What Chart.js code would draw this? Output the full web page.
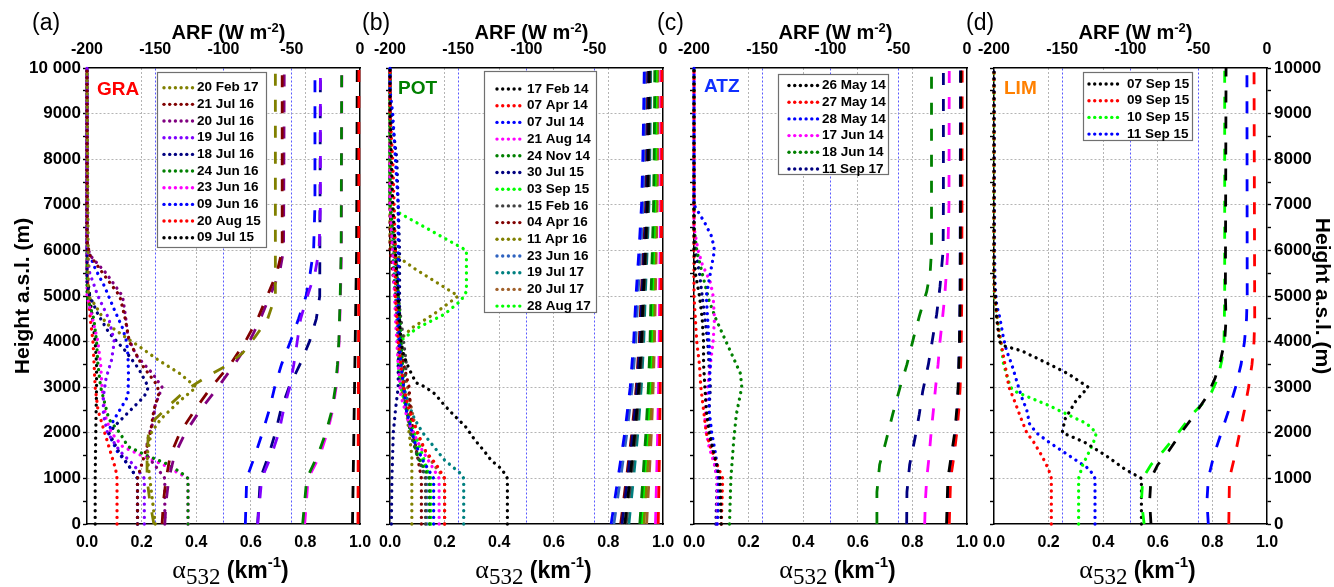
<!DOCTYPE html>
<html>
<head>
<meta charset="utf-8">
<script src="https://cdn.jsdelivr.net/npm/chart.js@4.4.1/dist/chart.umd.min.js"></script>
<style>
  html, body { margin: 0; padding: 0; background: #fff; }
  #wrap { position: relative; width: 1334px; height: 587px; overflow: hidden; background: #fff; }
  #wrap canvas { position: absolute; left: 0; top: 0; }
</style>
</head>
<body>
<div id="wrap">
  <canvas id="panelA" width="1334" height="587"></canvas>
  <canvas id="panelB" width="1334" height="587"></canvas>
  <canvas id="panelC" width="1334" height="587"></canvas>
  <canvas id="panelD" width="1334" height="587"></canvas>
</div>
<script>
// ---------------------------------------------------------------
// Vertical profiles: each point is [height a.s.l. (m), value].
// Extinction α532 in km^-1 (bottom axis), ARF in W m^-2 (top axis).
// ---------------------------------------------------------------

// ---- (a) GRA ----
const graDates  = ['20 Feb 17','21 Jul 16','20 Jul 16','19 Jul 16','18 Jul 16','24 Jun 16','23 Jun 16','09 Jun 16','20 Aug 15','09 Jul 15'];
const graColors = ['#808000','#800000','#800080','#8000ff','#000080','#008000','#ff00ff','#0000ff','#ff0000','#000000'];

const graExt20Feb17 = [[0,0.25],[500,0.24],[1000,0.23],[1500,0.22],[2000,0.235],[2300,0.27],[2700,0.34],[3000,0.40],[3300,0.34],[3600,0.26],[3900,0.19],[4100,0.14],[4400,0.07],[4800,0.03],[5000,0.005],[10000,0]];
const graExt21Jul16 = [[0,0.185],[1000,0.185],[1300,0.2],[1700,0.22],[2100,0.235],[2500,0.245],[2900,0.265],[3100,0.25],[3500,0.2],[4000,0.155],[4500,0.14],[5000,0.12],[5400,0.07],[5900,0.01],[6200,0],[10000,0]];
const graExt20Jul16 = [[0,0.285],[1000,0.285],[1200,0.26],[1500,0.22],[1800,0.22],[2200,0.24],[2600,0.25],[3000,0.275],[3300,0.24],[3700,0.18],[4100,0.15],[4600,0.14],[5000,0.13],[5500,0.07],[5900,0.01],[6200,0],[10000,0]];
const graExt19Jul16 = [[0,0.21],[1000,0.21],[1300,0.17],[1600,0.12],[2000,0.075],[2400,0.06],[2800,0.06],[3200,0.07],[3600,0.09],[4000,0.1],[4500,0.08],[5000,0.04],[5500,0.01],[6000,0],[10000,0]];
const graExt18Jul16 = [[0,0.185],[1000,0.185],[1300,0.15],[1600,0.115],[2000,0.08],[2200,0.11],[2500,0.16],[2800,0.21],[3000,0.225],[3400,0.19],[3800,0.14],[4200,0.08],[4600,0.04],[5000,0.01],[5300,0],[10000,0]];
const graExt24Jun16 = [[0,0.37],[1000,0.37],[1100,0.35],[1300,0.30],[1500,0.22],[1700,0.15],[2000,0.12],[2300,0.08],[3000,0.05],[3500,0.04],[4000,0.035],[4500,0.025],[5000,0],[10000,0]];
const graExt23Jun16 = [[0,0.37],[1000,0.37],[1100,0.34],[1300,0.28],[1500,0.2],[1700,0.13],[2000,0.09],[2300,0.07],[2700,0.06],[3000,0.055],[3500,0.05],[4000,0.04],[4500,0.02],[5000,0],[10000,0]];
const graExt09Jun16 = [[0,0.185],[1000,0.185],[1300,0.15],[1600,0.11],[2000,0.078],[2200,0.09],[2450,0.115],[2800,0.15],[3300,0.152],[3700,0.15],[4000,0.145],[4300,0.13],[4700,0.1],[5200,0.065],[5600,0.03],[5900,0.01],[6100,0],[10000,0]];
const graExt20Aug15 = [[0,0.11],[1000,0.11],[1200,0.105],[1600,0.085],[2000,0.065],[2500,0.04],[3000,0.03],[4000,0.022],[4500,0.012],[5000,0.006],[5500,0],[10000,0]];
const graExt09Jul15 = [[0,0.03],[1000,0.03],[2000,0.032],[3000,0.035],[3500,0.035],[4000,0.03],[4500,0.02],[5000,0.01],[5500,0],[10000,0]];

const graArf20Feb17 = [[0,-151],[500,-154],[1000,-156],[1500,-156],[2000,-155],[2300,-150],[2650,-138],[2950,-127],[3270,-110],[3450,-99],[3750,-86],[4100,-77],[4470,-68],[5000,-62],[10000,-62]];
const graArf21Jul16 = [[0,-145],[500,-144],[1000,-142],[1500,-139],[2000,-132],[2500,-121],[3000,-109],[3500,-95],[4000,-84],[4500,-75],[5000,-68],[5500,-61],[6000,-57],[10000,-57]];
const graArf20Jul16 = [[0,-143],[500,-142],[1000,-140],[1500,-136],[2000,-128],[2500,-117],[3000,-104],[3500,-92],[4000,-81],[4500,-73],[5000,-66],[5500,-59],[6000,-56],[10000,-55.5]];
const graArf19Jul16 = [[0,-75],[1000,-72],[1500,-65],[2000,-59.5],[2500,-56],[3000,-51.5],[3500,-48.5],[4000,-46],[4500,-43.5],[5000,-38.5],[5500,-33],[6000,-30],[7000,-29],[10000,-29]];
const graArf18Jul16 = [[0,-75],[1000,-73],[1500,-67],[2000,-62],[2500,-58],[3000,-52],[3500,-44],[4000,-37],[4500,-32],[5000,-29.5],[10000,-29]];
const graArf24Jun16 = [[0,-42],[1000,-39],[1500,-31],[2000,-25],[2500,-20.5],[3000,-18],[3500,-16.5],[4000,-15.5],[5000,-14.5],[6000,-13.8],[10000,-13.4]];
const graArf23Jun16 = [[0,-40.5],[1000,-38],[1500,-29.5],[2000,-24],[2500,-20],[3000,-17.5],[3500,-16.2],[4000,-15.3],[5000,-14.3],[6000,-13.6],[10000,-13.3]];
const graArf09Jun16 = [[0,-84],[1000,-83],[1500,-77],[2000,-71.5],[2500,-66.5],[3000,-62.5],[3500,-57.5],[4000,-51],[4500,-45],[5000,-39.5],[5500,-36.5],[6000,-34],[7000,-33],[10000,-33]];
const graArf20Aug15 = [[0,-1.5],[5000,-1],[10000,-0.8]];
const graArf09Jul15 = [[0,-5.5],[2000,-4.5],[4000,-3.5],[6000,-2.5],[10000,-2]];

// ---- (b) POT ----
const potDates  = ['17 Feb 14','07 Apr 14','07 Jul 14','21 Aug 14','24 Nov 14','30 Jul 15','03 Sep 15','15 Feb 16','04 Apr 16','11 Apr 16','23 Jun 16','19 Jul 17','20 Jul 17','28 Aug 17'];
const potColors = ['#000000','#ff0000','#0000ff','#ff00ff','#008000','#000080','#00ff00','#404040','#800000','#808000','#2f63c0','#008080','#a0602a','#00ff00'];

const potExt17Feb14 = [[0,0.43],[1000,0.43],[1200,0.41],[1400,0.37],[1600,0.345],[1850,0.31],[2150,0.275],[2350,0.24],[2600,0.2],[2850,0.165],[3000,0.13],[3100,0.095],[3400,0.07],[3700,0.05],[4000,0.04],[5000,0.03],[6000,0.02],[7000,0.01],[8000,0.005],[9000,0],[10000,0]];
const potExt07Apr14 = [[0,0.2],[1000,0.2],[1300,0.17],[1600,0.13],[2000,0.1],[2500,0.07],[3000,0.05],[4000,0.03],[5000,0.02],[6000,0.02],[7000,0.015],[8000,0.01],[8500,0.005],[9000,0],[10000,0]];
const potExt07Jul14 = [[0,0.16],[1000,0.16],[1400,0.12],[1800,0.09],[2500,0.06],[3500,0.04],[4500,0.03],[6000,0.03],[7000,0.03],[8000,0.02],[9000,0.01],[9500,0],[10000,0]];
const potExt21Aug14 = [[0,0.18],[1000,0.18],[1300,0.15],[1700,0.11],[2200,0.07],[2800,0.04],[3500,0.03],[4500,0.02],[6000,0.01],[7000,0],[10000,0]];
const potExt24Nov14 = [[0,0.145],[1000,0.145],[1500,0.1],[2000,0.08],[2500,0.06],[3000,0.05],[4000,0.04],[5000,0.03],[6000,0.02],[7000,0],[10000,0]];
const potExt30Jul15 = [[0,0.005],[1000,0.007],[2000,0.012],[2500,0.02],[3000,0.03],[3500,0.03],[4000,0.035],[5000,0.035],[6000,0.035],[7000,0.03],[8000,0.025],[8500,0.015],[9000,0.005],[9500,0],[10000,0]];
const potExt03Sep15 = [[0,0.15],[1000,0.15],[1500,0.11],[2000,0.08],[3000,0.05],[4000,0.04],[5000,0.03],[6000,0.02],[7000,0],[10000,0]];
const potExt15Feb16 = [[0,0.13],[1000,0.13],[1500,0.1],[2000,0.075],[2500,0.06],[3000,0.05],[3500,0.06],[4000,0.05],[5000,0.03],[6000,0.015],[7000,0],[10000,0]];
const potExt04Apr16 = [[0,0.115],[1000,0.115],[1500,0.1],[2000,0.085],[2500,0.075],[3000,0.07],[3500,0.05],[4000,0.04],[5000,0.02],[6000,0],[10000,0]];
const potExt11Apr16 = [[0,0.08],[1000,0.08],[1500,0.08],[2000,0.07],[2500,0.06],[3000,0.04],[3500,0.03],[4000,0.03],[4300,0.08],[4600,0.16],[5000,0.25],[5300,0.17],[5600,0.09],[5900,0.02],[6100,0],[10000,0]];
const potExt23Jun16 = [[0,0.135],[1000,0.135],[1500,0.1],[2000,0.075],[3000,0.05],[4000,0.04],[5000,0.03],[6000,0.02],[7000,0],[10000,0]];
const potExt19Jul17 = [[0,0.27],[1000,0.27],[1100,0.26],[1400,0.2],[1700,0.16],[2000,0.12],[2300,0.09],[2600,0.07],[3000,0.05],[3500,0.04],[4000,0.03],[5000,0.02],[6000,0.01],[7000,0],[10000,0]];
const potExt20Jul17 = [[0,0.2],[1000,0.2],[1300,0.16],[1700,0.12],[2200,0.09],[2800,0.07],[3500,0.05],[4500,0.03],[5500,0.02],[7000,0],[10000,0]];
const potExt28Aug17 = [[0,0.145],[1000,0.145],[1500,0.12],[2000,0.09],[2500,0.06],[3000,0.04],[3500,0.03],[4000,0.035],[4300,0.1],[4600,0.2],[4900,0.26],[5100,0.28],[6000,0.28],[6100,0.25],[6500,0.13],[6900,0.01],[7100,0],[10000,0]];

// ARF at the 1000 m levels 0 ... 10000 m
const potArfHeights = [0,1000,2000,3000,4000,5000,6000,7000,8000,9000,10000];
const potArf17Feb14 = [-28,-24.2,-20.6,-17.7,-15.8,-14.5,-12.9,-11.4,-10.8,-10.4,-10];
const potArf07Apr14 = [-3.5,-2.9,-2.4,-2.0,-1.7,-1.5,-1.2,-1.0,-0.9,-0.85,-0.8];
const potArf07Jul14 = [-38,-33,-28,-24,-21.5,-19.8,-17.6,-15.7,-14.8,-14.2,-13.7];
const potArf21Aug14 = [-5.5,-4.7,-3.9,-3.2,-2.8,-2.5,-2.1,-1.8,-1.7,-1.6,-1.5];
const potArf24Nov14 = [-17,-14.7,-12.5,-10.7,-9.5,-8.8,-7.8,-6.9,-6.5,-6.2,-6];
const potArf30Jul15 = [-30,-25.9,-22,-18.9,-16.7,-15.4,-13.6,-12.1,-11.4,-10.9,-10.5];
const potArf03Sep15 = [-16,-13.7,-11.5,-9.7,-8.5,-7.8,-6.8,-5.9,-5.5,-5.2,-5];
const potArf15Feb16 = [-27,-23.3,-19.8,-17,-15.1,-13.9,-12.3,-10.9,-10.3,-9.9,-9.5];
const potArf04Apr16 = [-31,-26.8,-22.8,-19.6,-17.4,-16,-14.2,-12.6,-11.9,-11.4,-11];
const potArf11Apr16 = [-14,-11.9,-9.9,-8.3,-7.2,-6.5,-5.6,-4.8,-4.5,-4.2,-4];
const potArf23Jun16 = [-36,-31.1,-26.4,-22.6,-20,-18.4,-16.3,-14.4,-13.6,-13,-12.5];
const potArf19Jul17 = [-25,-21.6,-18.4,-15.9,-14.1,-13,-11.6,-10.3,-9.7,-9.3,-9];
const potArf20Jul17 = [-12,-10.2,-8.5,-7.2,-6.2,-5.6,-4.9,-4.2,-3.9,-3.7,-3.5];
const potArf28Aug17 = [-15,-12.8,-10.7,-9,-7.9,-7.1,-6.2,-5.3,-5,-4.7,-4.5];

// ---- (c) ATZ ----
const atzDates  = ['26 May 14','27 May 14','28 May 14','17 Jun 14','18 Jun 14','11 Sep 17'];
const atzColors = ['#000000','#ff0000','#0000ff','#ff00ff','#008000','#000080'];

const atzExt26May14 = [[0,0.1],[1000,0.095],[1500,0.075],[2000,0.055],[2500,0.045],[3000,0.04],[3500,0.035],[4000,0.035],[4500,0.03],[5000,0.02],[5500,0.005],[6000,0],[10000,0]];
const atzExt27May14 = [[0,0.1],[1000,0.105],[1300,0.085],[1700,0.06],[2000,0.045],[2500,0.035],[3000,0.025],[3500,0.02],[4000,0.01],[4500,0.005],[5000,0],[10000,0]];
const atzExt28May14 = [[0,0.085],[500,0.09],[1000,0.09],[1500,0.08],[2000,0.065],[2500,0.055],[3000,0.055],[3500,0.06],[4000,0.055],[4500,0.05],[5000,0.045],[5500,0.06],[6000,0.075],[6300,0.065],[6600,0.04],[6900,0.01],[7000,0],[10000,0]];
const atzExt17Jun14 = [[0,0.085],[1000,0.085],[1300,0.075],[1700,0.055],[2000,0.045],[2300,0.04],[2700,0.045],[3000,0.05],[3500,0.06],[4000,0.07],[4500,0.075],[5000,0.07],[5300,0.06],[5700,0.03],[6000,0.015],[6500,0],[10000,0]];
const atzExt18Jun14 = [[0,0.13],[1000,0.135],[1800,0.145],[2400,0.155],[3000,0.175],[3300,0.17],[3700,0.14],[4100,0.11],[4500,0.08],[4900,0.055],[5500,0.03],[6000,0.01],[6500,0],[10000,0]];
const atzExt11Sep17 = [[0,0.08],[1000,0.085],[1500,0.07],[2000,0.06],[2500,0.055],[3000,0.06],[3500,0.055],[4000,0.05],[4500,0.04],[5000,0.03],[5500,0.02],[6000,0.005],[6500,0],[10000,0]];

const atzArf26May14 = [[0,-15],[1000,-14],[1500,-11.5],[2000,-9],[2500,-7.5],[3000,-6.5],[4000,-5.5],[5000,-5],[10000,-4.5]];
const atzArf27May14 = [[0,-13],[1000,-12],[1500,-9.5],[2000,-7.5],[2500,-6],[3000,-5],[4000,-4.2],[5000,-3.8],[10000,-3.5]];
const atzArf28May14 = [[0,-14],[1000,-13],[1500,-10.5],[2000,-8.5],[2500,-7],[3000,-6.3],[4000,-5.5],[5000,-5],[10000,-4.8]];
const atzArf17Jun14 = [[0,-31],[500,-30.5],[1000,-29.5],[1500,-27.7],[2000,-26.3],[2500,-24.6],[3000,-23],[3500,-21.2],[4000,-19.8],[4500,-18],[5000,-16.3],[6000,-14],[7000,-13.2],[10000,-13]];
const atzArf18Jun14 = [[0,-66],[700,-66],[1300,-64],[1800,-59.5],[2400,-54.5],[3000,-49],[3500,-44],[4100,-39],[4600,-34.5],[5100,-29.5],[5500,-27],[6000,-26],[10000,-26]];
const atzArf11Sep17 = [[0,-44.2],[700,-44],[1300,-42],[1900,-38],[2400,-35],[2900,-32.5],[3500,-28.3],[4100,-25],[4600,-22.2],[5200,-19.8],[6000,-17.5],[7000,-17.3],[10000,-17.3]];

// ---- (d) LIM ----
const limDates  = ['07 Sep 15','09 Sep 15','10 Sep 15','11 Sep 15'];
const limColors = ['#000000','#ff0000','#00ff00','#0000ff'];

const limExt07Sep15 = [[0,0.54],[1000,0.54],[1200,0.48],[1500,0.41],[1800,0.33],[2000,0.25],[2300,0.26],[2700,0.3],[3000,0.345],[3300,0.27],[3600,0.17],[3800,0.1],[3900,0.04],[4000,0.02],[4500,0.01],[5000,0.005],[5500,0],[10000,0]];
const limExt09Sep15 = [[0,0.21],[1000,0.21],[1200,0.2],[1500,0.175],[1800,0.145],[2000,0.12],[2300,0.1],[2700,0.075],[3000,0.055],[3500,0.04],[3900,0.028],[4300,0.015],[4700,0.008],[5000,0.003],[5300,0],[10000,0]];
const limExt10Sep15 = [[0,0.31],[1000,0.31],[1300,0.325],[1600,0.35],[1800,0.365],[2000,0.375],[2200,0.34],[2400,0.27],[2600,0.2],[2800,0.12],[2900,0.08],[3000,0.06],[3500,0.035],[4000,0.025],[4500,0.012],[4900,0.003],[5200,0],[10000,0]];
const limExt11Sep15 = [[0,0.37],[1000,0.37],[1200,0.35],[1400,0.3],[1600,0.25],[1800,0.2],[2000,0.155],[2200,0.13],[2500,0.12],[2800,0.1],[3100,0.085],[3500,0.065],[3800,0.046],[4100,0.034],[4500,0.022],[4800,0.01],[5200,0.004],[6000,0.002],[10000,0]];

const limArf07Sep15 = [[0,-85],[500,-86],[1000,-85],[1300,-80],[1600,-72],[2000,-63],[2400,-53],[2800,-44],[3200,-38],[3600,-34],[4000,-31],[4500,-30],[5000,-30.5],[10000,-30]];
const limArf09Sep15 = [[0,-28],[1000,-27.5],[1500,-23.5],[2000,-20],[2500,-16.5],[3000,-13.5],[3500,-11],[4000,-9.5],[4500,-9],[10000,-9.5]];
const limArf10Sep15 = [[0,-90],[500,-92],[1000,-91],[1300,-85],[1600,-76],[2000,-65],[2400,-55],[2800,-42],[3200,-36],[3600,-33],[4000,-31.5],[5000,-31],[10000,-31]];
const limArf11Sep15 = [[0,-43],[500,-44],[1000,-43],[1500,-39],[2000,-33.5],[2500,-28],[3000,-23],[3500,-19],[4000,-16.5],[4500,-15],[5000,-14.5],[10000,-14.7]];

// ---------------------------------------------------------------
const SANS  = "'Liberation Sans', Arial, Helvetica, sans-serif";
const SERIF = "'Liberation Serif', 'Times New Roman', serif";

const toPoints = arr => arr.map(p => ({ x: p[1], y: p[0] }));
const zipHeights = (hs, vs) => hs.map((h, i) => [h, vs[i]]);

function extDataset(label, color, arr) {
  return {
    label, data: toPoints(arr), xAxisID: 'x', yAxisID: 'y',
    showLine: true, borderColor: color, backgroundColor: color,
    borderWidth: 3.3, borderDash: [0.1, 6.5], borderCapStyle: 'round', borderJoinStyle: 'round',
    pointRadius: 0, tension: 0, fill: false, clip: 6
  };
}
function arfDataset(label, color, arr) {
  return {
    label, data: toPoints(arr), xAxisID: 'x2', yAxisID: 'y',
    showLine: true, borderColor: color, backgroundColor: color,
    borderWidth: 2.8, borderDash: [12, 14], borderCapStyle: 'butt',
    pointRadius: 0, tension: 0, fill: false, clip: 6
  };
}

// Text runs with sub/superscripts, drawn centred on cx
function drawRuns(ctx, runs, cx, baseY) {
  let total = 0;
  runs.forEach(r => { ctx.font = r.font; r.w = ctx.measureText(r.t).width; total += r.w; });
  let x = cx - total / 2;
  ctx.textAlign = 'left'; ctx.textBaseline = 'alphabetic'; ctx.fillStyle = '#000';
  runs.forEach(r => { ctx.font = r.font; ctx.fillText(r.t, x, baseY + (r.dy || 0)); x += r.w; });
}

function drawLegend(ctx, L, names, colors) {
  ctx.save();
  ctx.fillStyle = '#fff';
  ctx.fillRect(L.x, L.y, L.w, L.h);
  ctx.strokeStyle = '#707070'; ctx.lineWidth = 1.2;
  ctx.strokeRect(L.x + 0.5, L.y + 0.5, L.w, L.h);
  ctx.font = `bold 13.5px ${SANS}`;
  ctx.textBaseline = 'middle'; ctx.textAlign = 'left';
  names.forEach((n, i) => {
    const y = L.y0 + i * L.step;
    ctx.fillStyle = colors[i];
    for (let x = L.sx0; x <= L.sx1 + 0.1; x += 5.7) {
      ctx.beginPath(); ctx.arc(x, y + 1, 1.7, 0, Math.PI * 2); ctx.fill();
    }
    ctx.fillStyle = '#000';
    ctx.fillText(n, L.tx, y + 1);
  });
  ctx.restore();
}

function decorPlugin(d) {
  return {
    id: 'panelDecor',
    afterDraw(chart) {
      const ctx = chart.ctx, a = chart.chartArea;
      const cx = (a.left + a.right) / 2;
      ctx.save();
      // panel letter
      ctx.font = `23px ${SANS}`; ctx.fillStyle = '#000';
      ctx.textAlign = 'left'; ctx.textBaseline = 'middle';
      ctx.fillText(d.letter, d.letterX, 24);
      // site name
      ctx.font = `bold 19px ${SANS}`; ctx.fillStyle = d.siteColor;
      ctx.fillText(d.site, a.left + d.siteDx, d.siteY);
      // top axis title
      drawRuns(ctx, [
        { t: 'ARF (W m', font: `bold 20px ${SANS}` },
        { t: '-2', font: `bold 13px ${SANS}`, dy: -7 },
        { t: ')', font: `bold 20px ${SANS}` }
      ], cx + 5, 39);
      // bottom axis title
      drawRuns(ctx, [
        { t: 'α', font: `26px ${SERIF}` },
        { t: '532', font: `23px ${SERIF}`, dy: 6 },
        { t: ' (km', font: `bold 23px ${SANS}` },
        { t: '-1', font: `bold 15px ${SANS}`, dy: -11 },
        { t: ')', font: `bold 23px ${SANS}` }
      ], cx + 7, 578);
      ctx.restore();
      drawLegend(ctx, d.legend, d.names, d.colors);
    }
  };
}

const gridGray = '#b4b4b4';
const gridBlue = '#5a5aff';

function makePanel(id, g, datasets, deco) {
  const tickFont = { family: SANS, size: 16, weight: 'bold' };
  const yFont = { family: SANS, size: 17, weight: 'bold' };
  const titleFont = { family: SANS, size: 21, weight: 'bold' };
  const yLabel = v => (v % 1000 === 0 ? (v === 10000 ? g.topLabel : String(v)) : '');
  const yGrid = c => { const v = c.tick ? c.tick.value : 0; return (v % 1000 === 0 && v > 0 && v < 10000) ? gridGray : 'transparent'; };

  return new Chart(document.getElementById(id), {
    type: 'scatter',
    data: { datasets },
    options: {
      responsive: false, animation: false, devicePixelRatio: 1, events: [],
      layout: { padding: { left: g.padL, right: g.padR, top: 0, bottom: 0 } },
      plugins: { legend: { display: false }, tooltip: { enabled: false } },
      scales: {
        x: {
          type: 'linear', position: 'bottom', min: 0, max: 1,
          ticks: { stepSize: 0.2, callback: v => v.toFixed(1), font: tickFont, color: '#000', padding: 9, autoSkip: false, maxRotation: 0 },
          grid: { color: c => { const v = c.tick ? c.tick.value : 0; return (v > 0.01 && v < 0.99) ? gridGray : 'transparent'; }, lineWidth: 1, drawTicks: false },
          border: { display: true, color: '#000', width: 1.5, dash: [2, 2] },
          afterFit: s => { s.height = 63; }
        },
        x2: {
          type: 'linear', position: 'top', min: -200, max: 0,
          ticks: { stepSize: 50, font: tickFont, color: '#000', padding: 9, autoSkip: false, maxRotation: 0 },
          grid: { color: c => { const v = c.tick ? c.tick.value : 0; return (v > -199 && v < -1) ? gridBlue : 'transparent'; }, lineWidth: 1, drawTicks: false },
          border: { display: true, color: '#000', width: 1.5, dash: [2, 2] },
          afterFit: s => { s.height = 68; }
        },
        y: {
          type: 'linear', position: 'left', min: 0, max: 10000,
          ticks: { stepSize: 500, display: g.leftLabels, callback: yLabel, font: yFont, color: '#000', padding: 2, autoSkip: false },
          grid: { color: yGrid, lineWidth: 1, tickColor: '#000', tickLength: 4, tickWidth: 1.4 },
          border: { display: true, color: '#000', width: 1.5, dash: [2, 2] },
          title: { display: g.leftTitle, text: 'Height a.s.l. (m)', font: titleFont, color: '#000', padding: { top: 11, bottom: 0 } },
          afterFit: s => { s.width = g.yw; }
        },
        yR: {
          type: 'linear', position: 'right', min: 0, max: 10000,
          ticks: { stepSize: 500, display: g.rightLabels, callback: yLabel, font: yFont, color: '#000', padding: 3, autoSkip: false },
          grid: { drawOnChartArea: false, drawTicks: g.rightLabels, tickColor: '#000', tickLength: 4, tickWidth: 1.4 },
          border: { display: true, color: '#000', width: 1.5 },
          title: { display: g.rightLabels, text: 'Height a.s.l. (m)', font: titleFont, color: '#000', padding: { top: 0, bottom: 0 } },
          afterFit: s => { s.width = g.rw; }
        }
      }
    },
    plugins: [decorPlugin(deco)]
  });
}

// ---- (a) GRA ----
makePanel('panelA',
  { padL: 0, yw: 87, padR: 974, rw: 0, leftLabels: true, leftTitle: true, rightLabels: false, topLabel: '10 000' },
  [
    arfDataset('20 Feb 17 ARF', graColors[0], graArf20Feb17),
    arfDataset('21 Jul 16 ARF', graColors[1], graArf21Jul16),
    arfDataset('20 Jul 16 ARF', graColors[2], graArf20Jul16),
    arfDataset('19 Jul 16 ARF', graColors[3], graArf19Jul16),
    arfDataset('18 Jul 16 ARF', graColors[4], graArf18Jul16),
    arfDataset('24 Jun 16 ARF', graColors[5], graArf24Jun16),
    arfDataset('23 Jun 16 ARF', graColors[6], graArf23Jun16),
    arfDataset('09 Jun 16 ARF', graColors[7], graArf09Jun16),
    arfDataset('20 Aug 15 ARF', graColors[8], graArf20Aug15),
    arfDataset('09 Jul 15 ARF', graColors[9], graArf09Jul15),
    extDataset(graDates[0], graColors[0], graExt20Feb17),
    extDataset(graDates[1], graColors[1], graExt21Jul16),
    extDataset(graDates[2], graColors[2], graExt20Jul16),
    extDataset(graDates[3], graColors[3], graExt19Jul16),
    extDataset(graDates[4], graColors[4], graExt18Jul16),
    extDataset(graDates[5], graColors[5], graExt24Jun16),
    extDataset(graDates[6], graColors[6], graExt23Jun16),
    extDataset(graDates[7], graColors[7], graExt09Jun16),
    extDataset(graDates[8], graColors[8], graExt20Aug15),
    extDataset(graDates[9], graColors[9], graExt09Jul15)
  ],
  { letter: '(a)', letterX: 32, site: 'GRA', siteColor: '#ff0000', siteDx: 10, siteY: 90,
    names: graDates, colors: graColors,
    legend: { x: 157, y: 72, w: 109, h: 175, y0: 86.7, step: 16.67, sx0: 164, sx1: 193, tx: 197 } }
);

// ---- (b) POT ----
const potArfSeries = [potArf17Feb14, potArf07Apr14, potArf07Jul14, potArf21Aug14, potArf24Nov14, potArf30Jul15, potArf03Sep15,
                      potArf15Feb16, potArf04Apr16, potArf11Apr16, potArf23Jun16, potArf19Jul17, potArf20Jul17, potArf28Aug17];
const potExtSeries = [potExt17Feb14, potExt07Apr14, potExt07Jul14, potExt21Aug14, potExt24Nov14, potExt30Jul15, potExt03Sep15,
                      potExt15Feb16, potExt04Apr16, potExt11Apr16, potExt23Jun16, potExt19Jul17, potExt20Jul17, potExt28Aug17];
makePanel('panelB',
  { padL: 365, yw: 25, padR: 671, rw: 0, leftLabels: false, leftTitle: false, rightLabels: false, topLabel: '' },
  [
    ...potArfSeries.map((s, i) => arfDataset(potDates[i] + ' ARF', potColors[i], zipHeights(potArfHeights, s))),
    ...potExtSeries.map((s, i) => extDataset(potDates[i], potColors[i], s))
  ],
  { letter: '(b)', letterX: 362, site: 'POT', siteColor: '#008000', siteDx: 8, siteY: 89,
    names: potDates, colors: potColors,
    legend: { x: 484, y: 71, w: 112, h: 241, y0: 88, step: 16.7, sx0: 497, sx1: 523, tx: 527 } }
);

// ---- (c) ATZ ----
makePanel('panelC',
  { padL: 669, yw: 25, padR: 367, rw: 0, leftLabels: false, leftTitle: false, rightLabels: false, topLabel: '' },
  [
    arfDataset('26 May 14 ARF', atzColors[0], atzArf26May14),
    arfDataset('27 May 14 ARF', atzColors[1], atzArf27May14),
    arfDataset('28 May 14 ARF', atzColors[2], atzArf28May14),
    arfDataset('17 Jun 14 ARF', atzColors[3], atzArf17Jun14),
    arfDataset('18 Jun 14 ARF', atzColors[4], atzArf18Jun14),
    arfDataset('11 Sep 17 ARF', atzColors[5], atzArf11Sep17),
    extDataset(atzDates[0], atzColors[0], atzExt26May14),
    extDataset(atzDates[1], atzColors[1], atzExt27May14),
    extDataset(atzDates[2], atzColors[2], atzExt28May14),
    extDataset(atzDates[3], atzColors[3], atzExt17Jun14),
    extDataset(atzDates[4], atzColors[4], atzExt18Jun14),
    extDataset(atzDates[5], atzColors[5], atzExt11Sep17)
  ],
  { letter: '(c)', letterX: 657, site: 'ATZ', siteColor: '#1030ff', siteDx: 10, siteY: 87,
    names: atzDates, colors: atzColors,
    legend: { x: 778, y: 74, w: 110, h: 100, y0: 84.5, step: 16.7, sx0: 789, sx1: 818, tx: 822 } }
);

// ---- (d) LIM ----
makePanel('panelD',
  { padL: 969, yw: 25, padR: 0, rw: 67, leftLabels: false, leftTitle: false, rightLabels: true, topLabel: '10000' },
  [
    arfDataset('07 Sep 15 ARF', limColors[0], limArf07Sep15),
    arfDataset('09 Sep 15 ARF', limColors[1], limArf09Sep15),
    arfDataset('10 Sep 15 ARF', limColors[2], limArf10Sep15),
    arfDataset('11 Sep 15 ARF', limColors[3], limArf11Sep15),
    extDataset(limDates[0], limColors[0], limExt07Sep15),
    extDataset(limDates[1], limColors[1], limExt09Sep15),
    extDataset(limDates[2], limColors[2], limExt10Sep15),
    extDataset(limDates[3], limColors[3], limExt11Sep15)
  ],
  { letter: '(d)', letterX: 966, site: 'LIM', siteColor: '#ff8000', siteDx: 10, siteY: 89,
    names: limDates, colors: limColors,
    legend: { x: 1083, y: 72, w: 109, h: 68, y0: 83, step: 16.7, sx0: 1089, sx1: 1123, tx: 1127 } }
);
</script>
</body>
</html>
